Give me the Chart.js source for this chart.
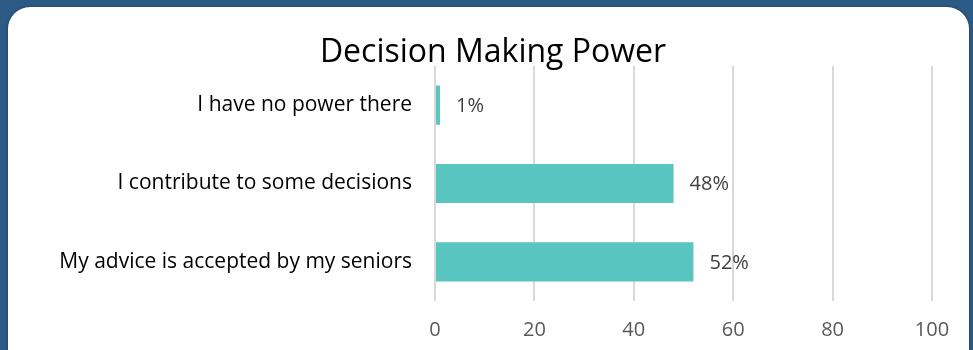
<!DOCTYPE html>
<html>
<head>
<meta charset="utf-8">
<script src="https://cdn.jsdelivr.net/npm/chart.js@4.4.0/dist/chart.umd.min.js"></script>
<style>
  html, body { margin: 0; padding: 0; }
  body { width: 973px; height: 350px; background: #2b5a85; position: relative; overflow: hidden; }
  .card { position: absolute; left: 8px; top: 7px; width: 961px; height: 370px; background: #fff; border-radius: 22px; box-shadow: 0 0 3px rgba(0,0,0,0.35); }
  #wrap { position: absolute; left: 0; top: 0; width: 973px; height: 350px; }
</style>
</head>
<body>
<div class="card"></div>
<div id="wrap"><canvas id="myChart"></canvas></div>
<script>
// chart data
var title = 'Decision Making Power';
var categories = ['I have no power there', 'I contribute to some decisions', 'My advice is accepted by my seniors'];
var values = [1, 48, 52];
var valueLabels = ['1%', '48%', '52%'];
var tickValues = [0, 20, 40, 60, 80, 100];

var fontName = '"Open Sans", sans-serif';

// draws the title and the % labels next to the bars
var extras = {
    id: 'extras',
    afterDatasetsDraw: function (chart) {
        var ctx = chart.ctx;
        var meta = chart.getDatasetMeta(0);
        ctx.save();
        ctx.fillStyle = '#404040';
        ctx.font = '20px ' + fontName;
        ctx.textAlign = 'left';
        ctx.textBaseline = 'middle';
        meta.data.forEach(function (bar, i) {
            ctx.fillText(valueLabels[i], bar.x + 16, bar.y + 1);
        });
        ctx.fillStyle = '#000';
        ctx.font = '32px ' + fontName;
        ctx.textAlign = 'center';
        ctx.fillText(title, 493, 53);
        ctx.restore();
    }
};

new Chart(document.getElementById('myChart'), {
    type: 'bar',
    data: {
        labels: categories,
        datasets: [{
            data: values,
            backgroundColor: '#59c5c0',
            barPercentage: 0.5,
            categoryPercentage: 1
        }]
    },
    options: {
        indexAxis: 'y',
        responsive: true,
        maintainAspectRatio: false,
        animation: false,
        layout: { padding: { top: 66, left: 8, right: 41, bottom: 0 } },
        plugins: { legend: { display: false }, tooltip: { enabled: false } },
        scales: {
            x: {
                min: 0,
                max: 100,
                afterBuildTicks: function (s) { s.ticks = tickValues.map(function (v) { return { value: v }; }); },
                afterFit: function (s) { s.height = 49; },
                grid: { color: '#d9d9d9', lineWidth: 2, drawTicks: false },
                border: { display: false },
                ticks: { color: '#595959', font: { family: fontName, size: 20 }, padding: 17 }
            },
            y: {
                afterFit: function (s) { s.width = 427; },
                grid: { display: false },
                border: { display: false },
                ticks: { color: '#000', font: { family: fontName, size: 21 }, padding: 15 }
            }
        }
    },
    plugins: [extras]
});
</script>
</body>
</html>
